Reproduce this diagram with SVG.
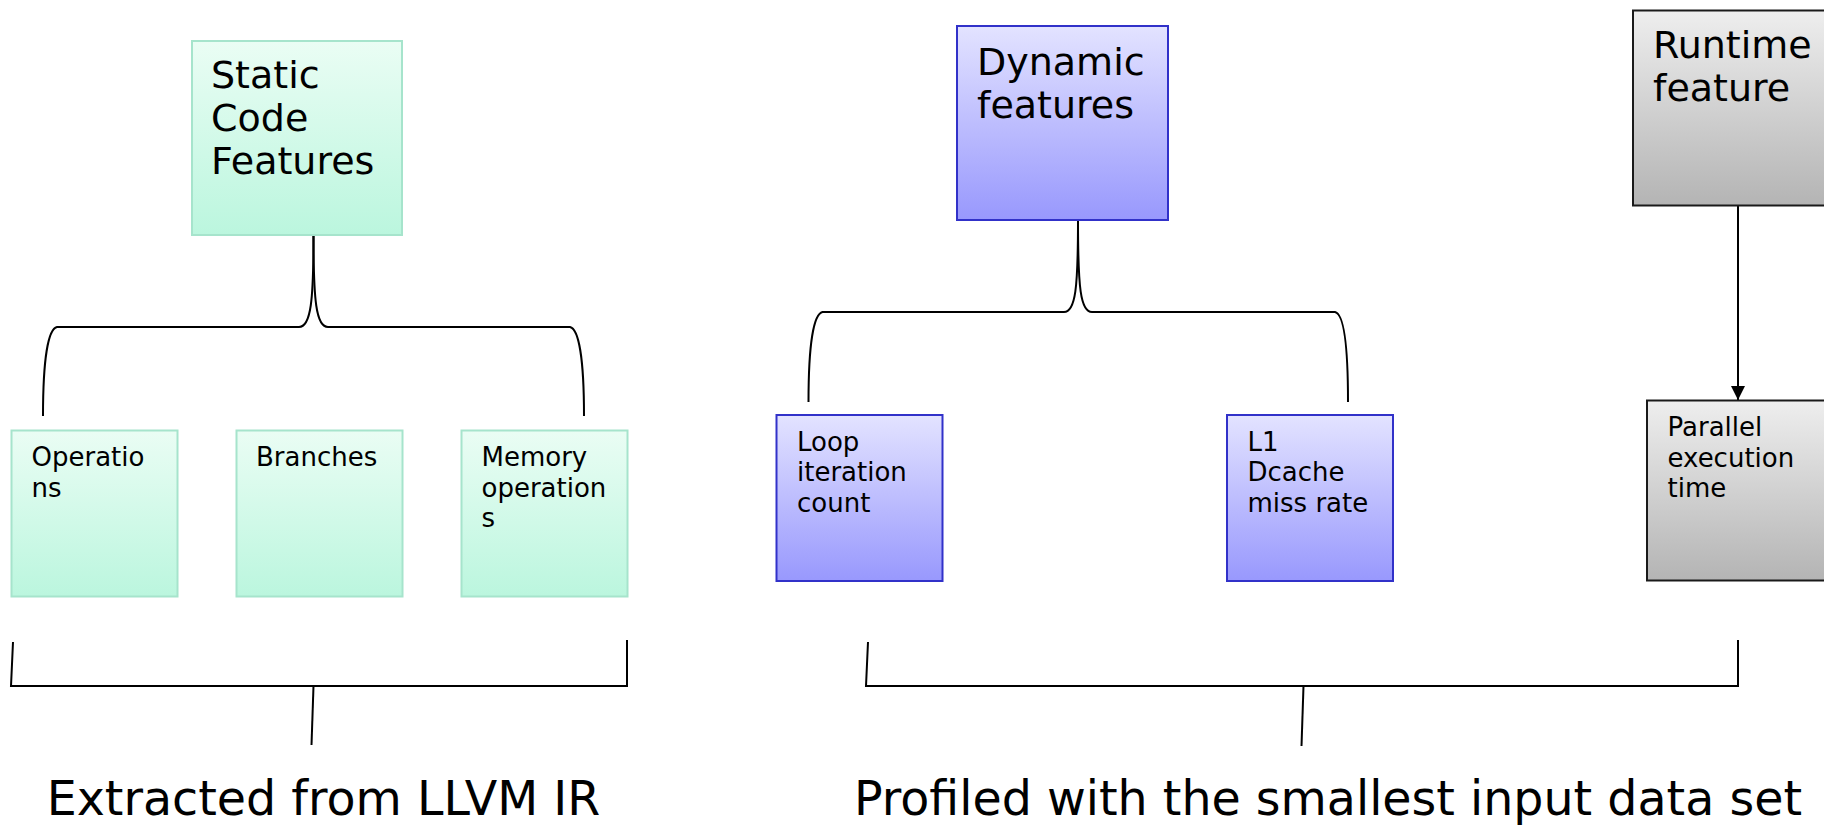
<svg xmlns="http://www.w3.org/2000/svg" width="1824" height="826" viewBox="0 0 1824 826">
  <defs>
    <linearGradient id="gGreen" x1="0" y1="0" x2="0" y2="1">
      <stop offset="0" stop-color="#eafdf4"/>
      <stop offset="1" stop-color="#bbf6de"/>
    </linearGradient>
    <linearGradient id="gBlue" x1="0" y1="0" x2="0" y2="1">
      <stop offset="0" stop-color="#e3e3ff"/>
      <stop offset="1" stop-color="#9898fd"/>
    </linearGradient>
    <linearGradient id="gGray" x1="0" y1="0" x2="0" y2="1">
      <stop offset="0" stop-color="#eeeeee"/>
      <stop offset="1" stop-color="#b4b4b4"/>
    </linearGradient>
    <marker id="arrow" markerWidth="14" markerHeight="14" refX="14" refY="7" orient="auto" markerUnits="userSpaceOnUse">
      <path d="M0,0 L14,7 L0,14 Z" fill="#000"/>
    </marker>
  </defs>
  <style>
    text { font-family: "DejaVu Sans", "Liberation Sans", sans-serif; fill: #000; }
    .big { font-size: 38px; }
    .small { font-size: 26px; }
    .caption { font-size: 47.5px; text-anchor: middle; }
    .green { fill: url(#gGreen); stroke: #a6e4cc; stroke-width: 2; }
    .blue { fill: url(#gBlue); stroke: #3131c9; stroke-width: 2; }
    .gray { fill: url(#gGray); stroke: #1a1a1a; stroke-width: 2; }
    .conn { fill: none; stroke: #000; stroke-width: 2; }
  </style>
  <rect width="1824" height="826" fill="#ffffff"/>

  <!-- connectors -->
  <g id="connectors" class="conn">
    <!-- brace under static features -->
    <path d="M313.5,236 C313.5,300 311,327 299,327 L57,327 C48,329 43,360 43,416"/>
    <path d="M313.5,236 C313.5,300 316,327 328,327 L570,327 C579,329 584,360 584,416"/>
    <!-- brace under dynamic features -->
    <path d="M1078,221 C1078,288 1075.5,312 1064,312 L822.5,312 C813.5,314 808.5,345 808.5,402"/>
    <path d="M1078,221 C1078,288 1080.5,312 1092,312 L1335,312 C1344,314 1348,345 1348,402"/>
    <!-- runtime to parallel time -->
    <line x1="1738" y1="206" x2="1738" y2="400" marker-end="url(#arrow)"/>
    <!-- bottom brackets -->
    <path d="M13,642 L11,686 L627,686 L627,640"/>
    <path d="M313.5,686 L311.5,745"/>
    <path d="M868,642 L866,686 L1738,686 L1738,640"/>
    <path d="M1303.5,686 L1301.5,746"/>
  </g>

  <g id="static-features">
    <rect class="green" x="192" y="41" width="210" height="194"/>
    <text class="big" x="211" y="88">Static</text>
    <text class="big" x="211" y="131">Code</text>
    <text class="big" x="211" y="174">Features</text>
  </g>

  <g id="operations">
    <rect class="green" x="11.5" y="430.5" width="166" height="166"/>
    <text class="small" x="31.5" y="466">Operatio</text>
    <text class="small" x="31.5" y="497">ns</text>
  </g>

  <g id="branches">
    <rect class="green" x="236.5" y="430.5" width="166" height="166"/>
    <text class="small" x="256" y="466">Branches</text>
  </g>

  <g id="memory-operations">
    <rect class="green" x="461.5" y="430.5" width="166" height="166"/>
    <text class="small" x="481.5" y="466">Memory</text>
    <text class="small" x="481.5" y="497">operation</text>
    <text class="small" x="481.5" y="527">s</text>
  </g>

  <g id="dynamic-features">
    <rect class="blue" x="957" y="26" width="211" height="194"/>
    <text class="big" x="977" y="75">Dynamic</text>
    <text class="big" x="977" y="118">features</text>
  </g>

  <g id="loop-iteration-count">
    <rect class="blue" x="776.5" y="415" width="166" height="166"/>
    <text class="small" x="797" y="451">Loop</text>
    <text class="small" x="797" y="481">iteration</text>
    <text class="small" x="797" y="512">count</text>
  </g>

  <g id="l1-dcache-miss-rate">
    <rect class="blue" x="1227" y="415" width="166" height="166"/>
    <text class="small" x="1247.5" y="451">L1</text>
    <text class="small" x="1247.5" y="481">Dcache</text>
    <text class="small" x="1247.5" y="512">miss rate</text>
  </g>

  <g id="runtime-feature">
    <rect class="gray" x="1633" y="10.5" width="215" height="195"/>
    <text class="big" x="1653" y="57.5">Runtime</text>
    <text class="big" x="1653" y="100.5">feature</text>
  </g>

  <g id="parallel-execution-time">
    <rect class="gray" x="1647" y="400.5" width="200" height="180"/>
    <text class="small" x="1667.5" y="436">Parallel</text>
    <text class="small" x="1667.5" y="467">execution</text>
    <text class="small" x="1667.5" y="497">time</text>
  </g>

  <g id="captions">
    <text class="caption" x="323.5" y="815">Extracted from LLVM IR</text>
    <text class="caption" x="1328" y="815">Profiled with the smallest input data set</text>
  </g>
</svg>
